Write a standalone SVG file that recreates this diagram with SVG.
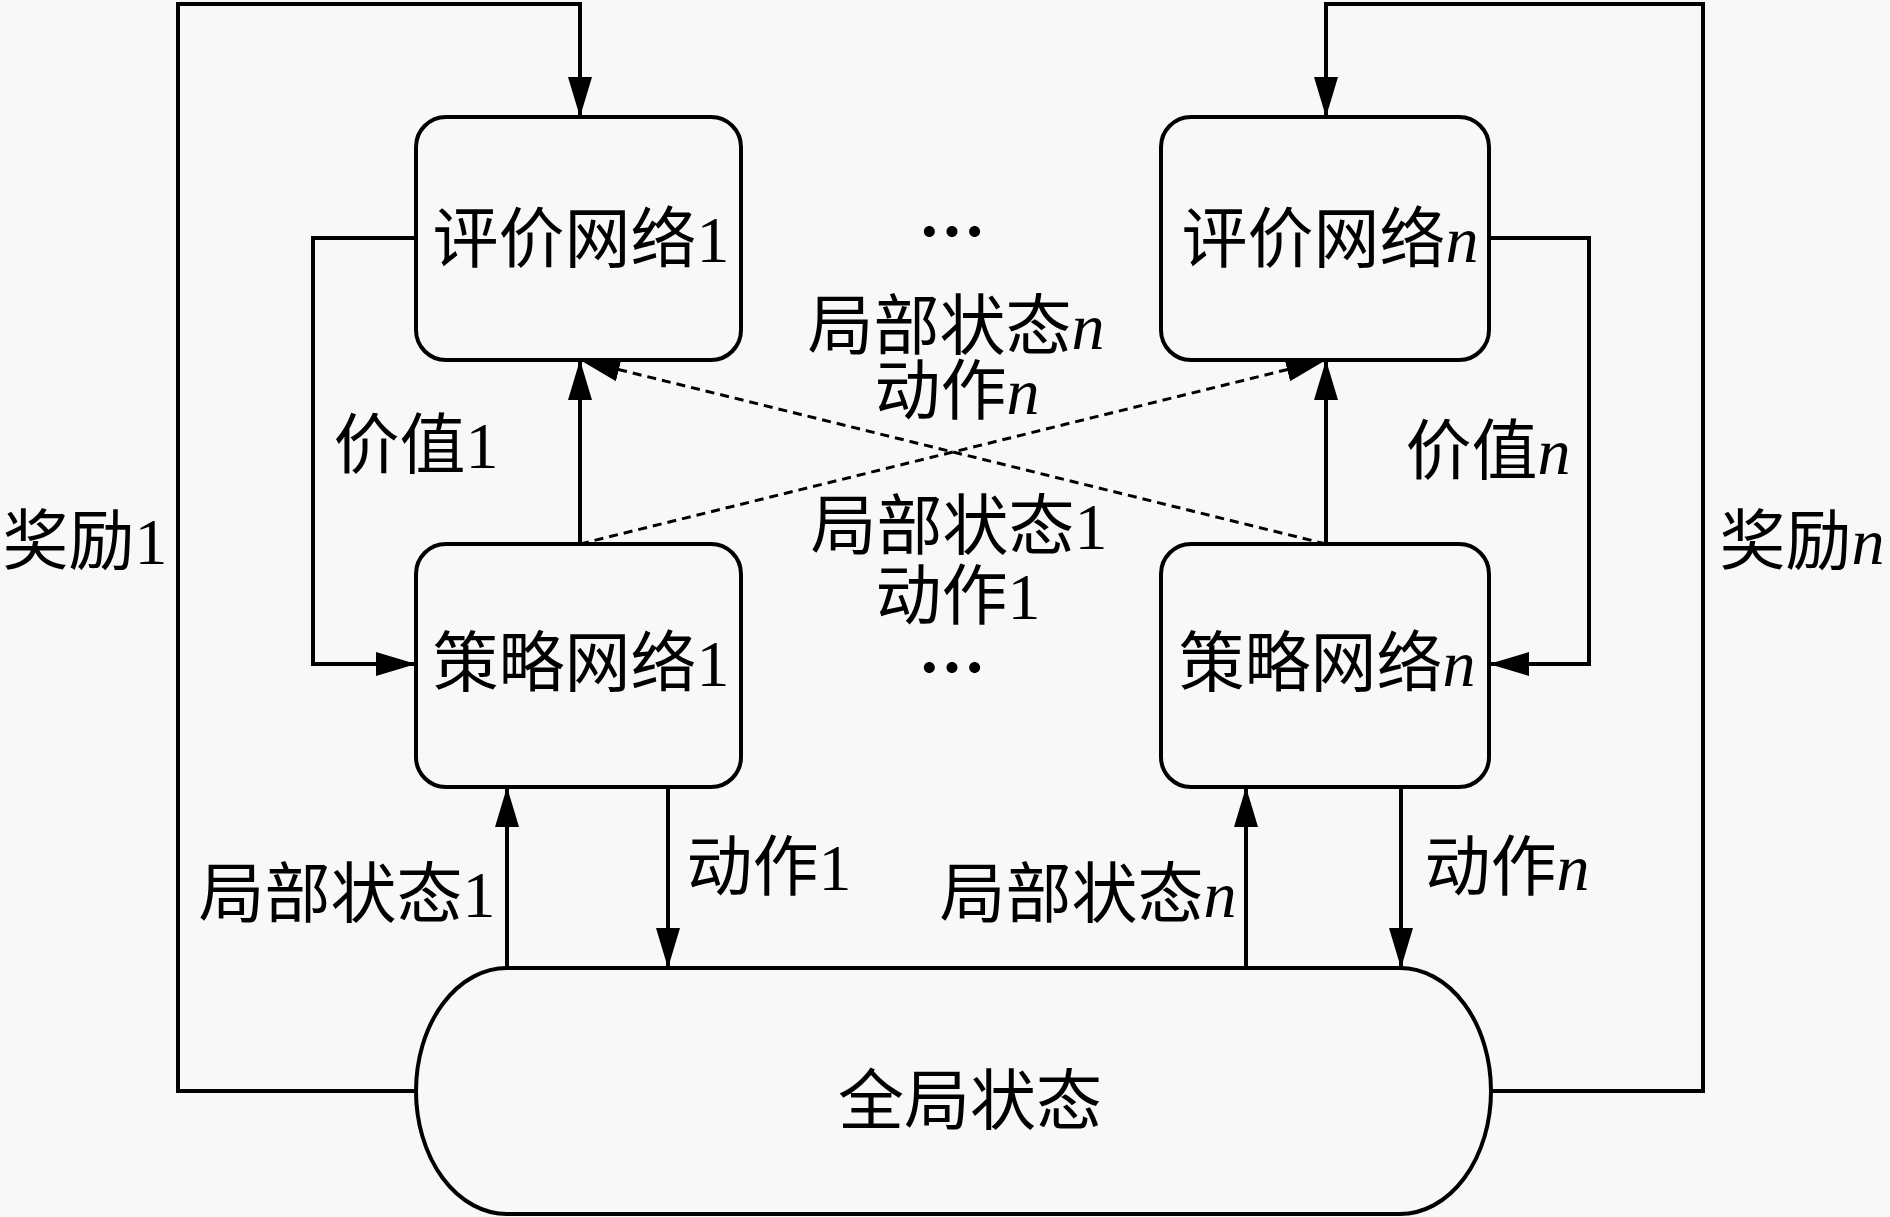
<svg xmlns="http://www.w3.org/2000/svg" width="1890" height="1217" viewBox="0 0 1890 1217">
<defs>
<marker id="ah" markerUnits="userSpaceOnUse" markerWidth="42" markerHeight="26" refX="40" refY="12" orient="auto">
<path d="M0,0 L40,12 L0,24 z" fill="#000"/>
</marker>
<style>
.box{fill:none;stroke:#000;stroke-width:4}
.ln{fill:none;stroke:#000;stroke-width:4}
.ar{fill:none;stroke:#000;stroke-width:4;marker-end:url(#ah)}
.ds{fill:none;stroke:#000;stroke-width:3;stroke-dasharray:9 6;marker-end:url(#ah)}
text{font-family:"Liberation Serif","Noto Sans CJK SC",serif;font-size:66px;fill:#000;text-anchor:middle}
.it{font-style:italic}
.dots{font-family:"Noto Sans CJK SC",sans-serif;font-size:68px;font-weight:bold}
</style>
</defs>
<rect x="0" y="0" width="1890" height="1217" fill="#f8f8f8"/>
<g id="connectors">
<path class="ar" d="M416,1091 H178 V4 H580 V117"/>
<path class="ar" d="M1491,1091 H1703 V4 H1326 V117"/>
<path class="ar" d="M416,238 H313 V664 H416"/>
<path class="ar" d="M1489,238 H1589 V664 H1489"/>
<path class="ar" d="M580,544 V360"/>
<path class="ar" d="M1326,544 V360"/>
<path class="ds" d="M580,544 L1326,360"/>
<path class="ds" d="M1326,544 L580,360"/>
<path class="ar" d="M507,968 V787"/>
<path class="ar" d="M668,787 V968"/>
<path class="ar" d="M1246,968 V787"/>
<path class="ar" d="M1401,787 V968"/>
</g>
<g id="critic1">
<rect class="box" x="416" y="117" width="325" height="243" rx="30" ry="30"/>
<text x="581" y="262">评价网络1</text>
</g>
<g id="criticn">
<rect class="box" x="1161" y="117" width="328" height="243" rx="30" ry="30"/>
<text x="1330" y="262">评价网络<tspan class="it">n</tspan></text>
</g>
<g id="actor1">
<rect class="box" x="416" y="544" width="325" height="243" rx="30" ry="30"/>
<text x="581" y="686">策略网络1</text>
</g>
<g id="actorn">
<rect class="box" x="1161" y="544" width="328" height="243" rx="30" ry="30"/>
<text x="1327" y="686">策略网络<tspan class="it">n</tspan></text>
</g>
<g id="global">
<rect class="box" x="416" y="968" width="1075" height="246" rx="91" ry="123"/>
<text x="970" y="1124">全局状态</text>
</g>
<g id="labels">
<text x="416" y="468">价值1</text>
<text x="1488" y="474">价值<tspan class="it">n</tspan></text>
<text x="85" y="564">奖励1</text>
<text x="1802" y="564">奖励<tspan class="it">n</tspan></text>
<text x="956" y="349">局部状态<tspan class="it">n</tspan></text>
<text x="957" y="414">动作<tspan class="it">n</tspan></text>
<text x="959" y="549">局部状态1</text>
<text x="958" y="619">动作1</text>
<text x="347" y="917">局部状态1</text>
<text x="769" y="890">动作1</text>
<text x="1088" y="917">局部状态<tspan class="it">n</tspan></text>
<text x="1507" y="890">动作<tspan class="it">n</tspan></text>
<text class="dots" x="952" y="258">⋯</text>
<text class="dots" x="952" y="694">⋯</text>
</g>
</svg>
